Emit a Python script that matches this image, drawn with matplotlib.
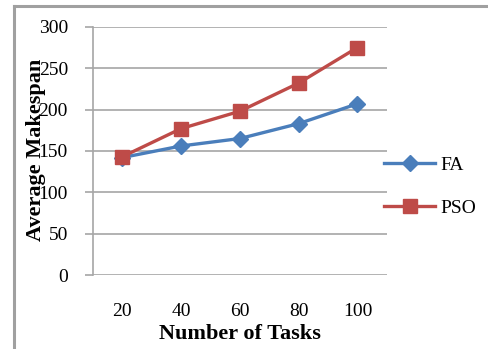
import matplotlib.pyplot as plt
from matplotlib.lines import Line2D

tasks = ['20', '40', '60', '80', '100']
fa = [142, 156, 165, 183, 207]
pso = [143, 177, 198, 232, 275]

plt.rcParams['font.family'] = ['Liberation Serif', 'DejaVu Serif']

fig = plt.figure(figsize=(4.89, 3.49), dpi=100)
ax = fig.add_axes([0.190, 0.212, 0.601, 0.711])

x = range(len(tasks))
ax.plot(x, fa, color='#4a7ebb', lw=2.4, marker='D', ms=8, label='FA')
ax.plot(x, pso, color='#be4b48', lw=2.4, marker='s', ms=9.5, label='PSO')

ax.set_xlim(-0.5, len(tasks) - 0.5)
ax.set_ylim(0, 300)
ax.set_yticks(range(0, 301, 50))
ax.set_xticks(list(x))
ax.set_xticklabels(tasks)
ax.yaxis.grid(True, color='#a6a6a6', lw=1.2)
ax.set_axisbelow(True)

for s in ['top', 'right', 'bottom']:
    ax.spines[s].set_visible(False)
ax.spines['left'].set_color('#a6a6a6')
ax.spines['left'].set_linewidth(1.2)
ax.tick_params(axis='y', length=6, color='#a6a6a6', width=1.2, labelsize=14, pad=12)
ax.tick_params(axis='x', length=0, labelsize=14, pad=20)

ax.set_xlabel('Number of Tasks', fontsize=16, fontweight='bold', labelpad=3)
ax.set_ylabel('Average Makespan', fontsize=16, fontweight='bold')
ax.yaxis.set_label_coords(-0.16, 0.505)

ax.legend(loc='upper left', bbox_to_anchor=(0.965, 0.51), frameon=False,
          fontsize=14, handlelength=2.6, labelspacing=1.3, handletextpad=0.3,
          borderaxespad=0)

# outer frame
fig.add_artist(Line2D([14 / 489, 14 / 489], [0, 1 - 6 / 349], color='#a0a0a0', lw=2.2))
fig.add_artist(Line2D([14 / 489, 1], [1 - 6 / 349, 1 - 6 / 349], color='#a0a0a0', lw=2.2))

fig.savefig('out.png', dpi=100)
